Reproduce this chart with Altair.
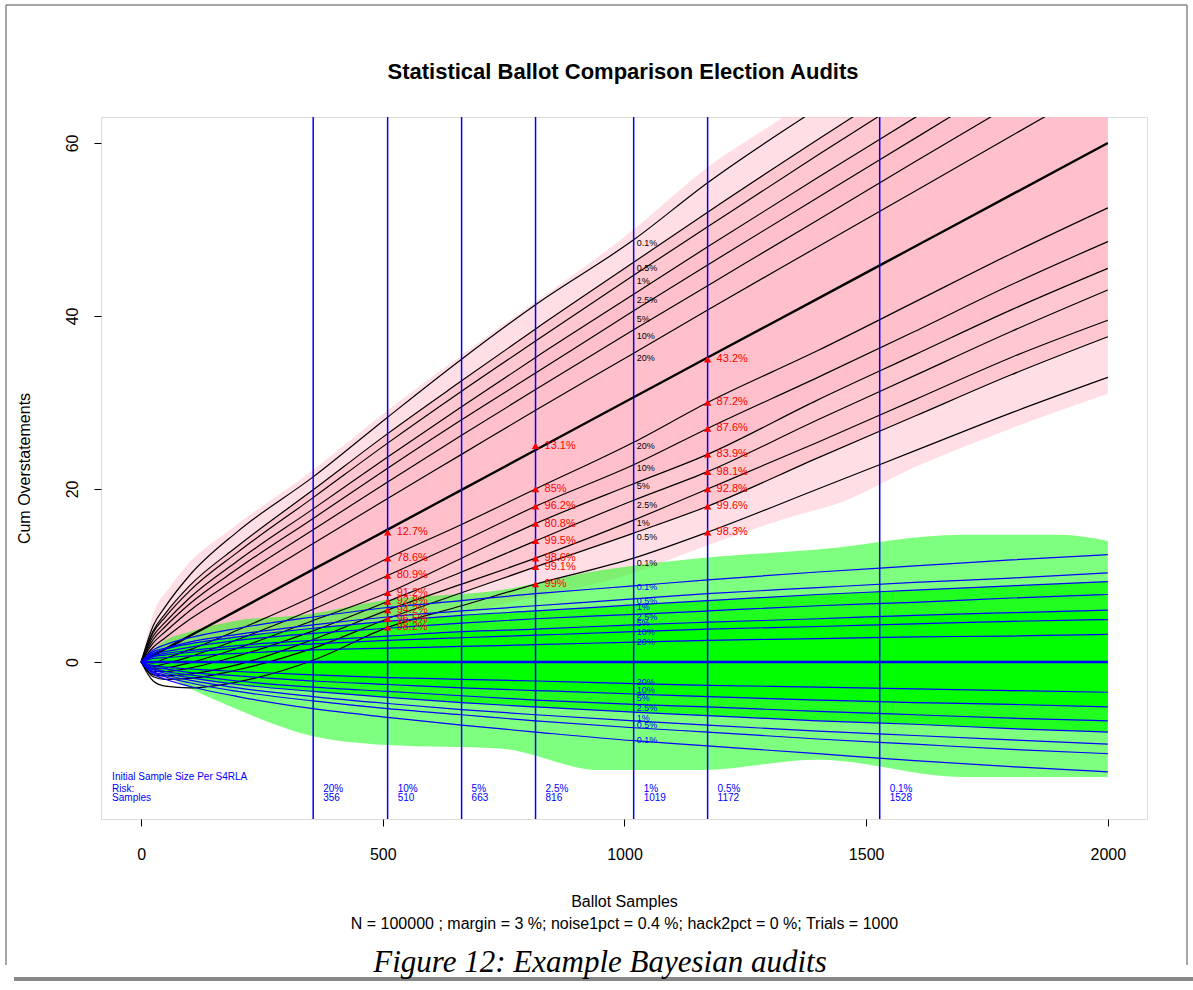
import altair as alt
import pandas as pd

# ---------------- data ----------------
N = [0, 25, 50, 100, 200, 356, 510, 663, 816, 1019, 1172, 1400, 1600, 1800, 2000]

# quantile curves of the "pink" trials (black lines)
P_U01 = [0, 4.2, 6.4, 10.0, 15.1, 21.4, 28.3, 35.0, 41.3, 48.8, 55.4, 64.0, 71.0, 78.0, 85.0]
P_U05 = [0, 3.6, 5.6, 8.8, 13.4, 19.9, 26.4, 32.5, 38.5, 46.2, 52.0, 60.4, 67.6, 74.8, 82.0]
P_U1 = [0, 3.4, 5.2, 8.2, 12.7, 19.0, 25.3, 31.3, 37.1, 44.7, 50.3, 58.6, 65.7, 72.8, 79.8]
P_U25 = [0, 3.0, 4.6, 7.4, 11.7, 17.7, 23.7, 29.5, 35.2, 42.5, 48.0, 56.0, 62.9, 69.8, 76.7]
P_U5 = [0, 2.6, 4.1, 6.7, 10.8, 16.6, 22.4, 28.0, 33.4, 40.6, 45.9, 53.7, 60.5, 67.3, 74.0]
P_U10 = [0, 2.2, 3.5, 5.9, 9.7, 15.3, 20.8, 26.2, 31.5, 38.4, 43.5, 51.1, 57.8, 64.4, 70.9]
P_U20 = [0, 1.7, 2.8, 4.9, 8.4, 13.7, 18.9, 24.0, 29.1, 35.7, 40.7, 48.0, 54.4, 60.8, 67.2]
P_MED = [0, 0.75, 1.5, 3.0, 6.0, 10.7, 15.3, 19.9, 24.5, 30.6, 35.2, 42.0, 48.0, 54.0, 60.0]
P_L20 = [0, -0.1, 0.4, 1.4, 3.7, 7.6, 12.0, 15.9, 20.0, 25.4, 30.0, 36.0, 41.6, 47.2, 52.5]
P_L10 = [0, -0.5, -0.2, 0.6, 2.6, 6.1, 10.0, 13.9, 18.0, 22.8, 27.0, 32.9, 38.2, 43.6, 48.6]
P_L5 = [0, -0.8, -0.7, -0.1, 1.6, 4.8, 8.0, 12.0, 16.0, 20.6, 24.0, 30.3, 35.5, 40.7, 45.5]
P_L25 = [0, -1.1, -1.1, -0.7, 0.7, 3.6, 7.0, 10.4, 14.0, 18.7, 22.0, 28.0, 33.1, 38.2, 43.0]
P_L1 = [0, -1.5, -1.6, -1.4, -0.3, 2.6, 6.0, 9.0, 12.0, 16.4, 20.0, 25.4, 30.3, 35.2, 39.5]
P_L05 = [0, -1.7, -2.0, -1.9, -0.9, 1.6, 5.0, 8.0, 11.0, 14.9, 18.0, 23.6, 28.4, 33.2, 37.6]
P_L01 = [0, -2.2, -2.8, -3.0, -2.3, 0.2, 4.0, 6.5, 9.0, 12.0, 15.0, 20.0, 24.4, 28.8, 32.9]

# quantile curves of the "green" trials (blue lines)
G_U01 = [0, 1.4, 2.0, 2.8, 3.9, 5.2, 6.3, 7.1, 7.9, 8.8, 9.5, 10.4, 11.1, 11.8, 12.4]
G_U05 = [0, 1.2, 1.6, 2.3, 3.2, 4.3, 5.2, 5.9, 6.5, 7.3, 7.9, 8.6, 9.2, 9.7, 10.3]
G_U1 = [0, 1.0, 1.5, 2.1, 2.9, 3.9, 4.7, 5.4, 5.9, 6.6, 7.1, 7.8, 8.3, 8.8, 9.3]
G_U25 = [0, 0.9, 1.2, 1.7, 2.5, 3.3, 3.9, 4.5, 5.0, 5.5, 5.9, 6.5, 6.9, 7.4, 7.8]
G_U5 = [0, 0.7, 1.0, 1.3, 1.9, 2.5, 3.0, 3.5, 3.8, 4.3, 4.6, 5.0, 5.4, 5.7, 6.0]
G_U10 = [0, 0.6, 0.8, 1.1, 1.6, 2.1, 2.5, 2.8, 3.1, 3.5, 3.8, 4.1, 4.4, 4.7, 4.9]
G_U20 = [0, 0.4, 0.5, 0.7, 1.0, 1.4, 1.6, 1.8, 2.0, 2.3, 2.5, 2.7, 2.9, 3.0, 3.2]
G_MED = [0, 0, 0, 0, 0, 0, 0, 0, 0, 0, 0, 0, 0, 0, 0]
G_L20 = [0, -0.4, -0.6, -0.8, -1.1, -1.5, -1.8, -2.0, -2.2, -2.5, -2.7, -2.9, -3.1, -3.3, -3.5]
G_L10 = [0, -0.6, -0.8, -1.2, -1.6, -2.2, -2.6, -3.0, -3.3, -3.7, -4.0, -4.4, -4.7, -4.9, -5.2]
G_L5 = [0, -0.8, -1.1, -1.5, -2.2, -2.9, -3.4, -3.9, -4.4, -4.9, -5.2, -5.7, -6.1, -6.5, -6.8]
G_L25 = [0, -0.9, -1.3, -1.8, -2.6, -3.4, -4.1, -4.7, -5.2, -5.8, -6.2, -6.8, -7.2, -7.7, -8.1]
G_L1 = [0, -1.1, -1.5, -2.1, -3.0, -4.0, -4.8, -5.5, -6.1, -6.8, -7.3, -8.0, -8.5, -9.0, -9.5]
G_L05 = [0, -1.2, -1.7, -2.4, -3.4, -4.5, -5.4, -6.1, -6.8, -7.6, -8.1, -8.9, -9.5, -10.1, -10.6]
G_L01 = [0, -1.4, -2.0, -2.8, -4.0, -5.4, -6.4, -7.3, -8.1, -9.1, -9.7, -10.6, -11.4, -12.1, -12.7]

# envelopes of the individual trial traces
PINK_N = [0, 25, 60, 100, 184, 356, 510, 700, 1019, 1172, 1328, 1450, 1600, 1800, 2000]
PINK_HI = [0, 5.5, 8.7, 11.5, 15.3, 22.2, 29.1, 37.0, 50.0, 57.2, 63.0, 68.0, 72.0, 76.0, 80.0]
PINK_LO = [0, -1.2, -2.2, -2.8, -3.2, -1.0, 2.8, 6.0, 10.3, 13.5, 16.5, 18.5, 22.5, 27.0, 31.0]

GREEN_N = [0, 50, 100, 200, 329, 510, 742, 950, 1156, 1400, 1700, 1900, 2000]
GREEN_HI = [0, 2.5, 3.5, 4.8, 5.4, 7.2, 8.3, 10.6, 12.0, 13.0, 14.7, 14.7, 14.0]
GREEN_LO = [0, -1.5, -3.0, -5.5, -8.2, -9.6, -10.0, -12.5, -12.5, -11.3, -13.3, -13.3, -13.3]

QUANT_UP = ["0.1%", "0.5%", "1%", "2.5%", "5%", "10%", "20%"]
QUANT_LO = ["20%", "10%", "5%", "2.5%", "1%", "0.5%", "0.1%"]
LABEL_N = 1019
P_LABEL_UP_Y = [48.4, 45.5, 44.0, 41.8, 39.7, 37.7, 35.1]
P_LABEL_LO_Y = [25.0, 22.4, 20.3, 18.2, 16.1, 14.5, 11.5]
G_LABEL_UP_Y = [8.7, 7.0, 6.4, 5.2, 4.5, 3.5, 2.35]
G_LABEL_LO_Y = [-2.3, -3.2, -4.2, -5.35, -6.5, -7.3, -9.0]

RISK_N = [356, 510, 663, 816, 1019, 1172, 1528]
RISK_LBL = ["20%", "10%", "5%", "2.5%", "1%", "0.5%", "0.1%"]

TRI_N = [510] * 8 + [816] * 8 + [1172] * 8
TRI_V = [15, 12, 10, 8, 7, 6, 5, 4,
         25, 20, 18, 16, 14, 12, 11, 9,
         35, 30, 27, 24, 22, 20, 18, 15]
TRI_LBL = ["12.7%", "78.6%", "80.9%", "91.2%", "92.8%", "94.2%", "96.5%", "98.2%",
           "13.1%", "85%", "96.2%", "80.8%", "99.5%", "98.6%", "99.1%", "99%",
           "43.2%", "87.2%", "87.6%", "83.9%", "98.1%", "92.8%", "99.6%", "98.3%"]

LEFT_TXT = ["Initial Sample Size Per S4RLA", "Risk:", "Samples"]
LEFT_TXT_Y = [-13.26, -14.72, -15.76]
RISK_ROW_Y = -14.72
SAMPLE_ROW_Y = -15.76

TITLE = "Statistical Ballot Comparison Election Audits"
XTITLE = ["Ballot Samples",
          "N = 100000 ; margin = 3 %; noise1pct = 0.4 %; hack2pct = 0 %; Trials = 1000"]
YTITLE = "Cum Overstatements"
CAPTION = "Figure 12: Example Bayesian audits"

# ---------------- tables ----------------
P_CURVES = [P_U01, P_U05, P_U1, P_U25, P_U5, P_U10, P_U20,
            P_L20, P_L10, P_L5, P_L25, P_L1, P_L05, P_L01]
G_CURVES = [G_U01, G_U05, G_U1, G_U25, G_U5, G_U10, G_U20,
            G_L20, G_L10, G_L5, G_L25, G_L1, G_L05, G_L01]


def long_table(curves, prefix):
    rows = []
    for i, vals in enumerate(curves):
        for n, v in zip(N, vals):
            rows.append({"n": n, "v": v, "curve": f"{prefix}{i}"})
    return pd.DataFrame(rows)


black_df = long_table(P_CURVES, "p")
blue_df = long_table(G_CURVES, "g")
pmed_df = pd.DataFrame({"n": N, "v": P_MED})
gmed_df = pd.DataFrame({"n": N, "v": G_MED})

pink_env = pd.DataFrame({"n": PINK_N, "lo": PINK_LO, "hi": PINK_HI})
pink_mid = pd.DataFrame({"n": N, "lo": P_L05, "hi": P_U05})
pink_core = pd.DataFrame({"n": N, "lo": P_L5, "hi": P_U25})
green_env = pd.DataFrame({"n": GREEN_N, "lo": GREEN_LO, "hi": GREEN_HI})
green_mid = pd.DataFrame({"n": N, "lo": G_L25, "hi": G_U1})
green_core = pd.DataFrame({"n": N, "lo": G_L10, "hi": G_U5})

plab = pd.DataFrame({"n": [LABEL_N] * 14, "v": P_LABEL_UP_Y + P_LABEL_LO_Y,
                     "t": QUANT_UP + QUANT_LO})
glab = pd.DataFrame({"n": [LABEL_N] * 14, "v": G_LABEL_UP_Y + G_LABEL_LO_Y,
                     "t": QUANT_UP + QUANT_LO})
risk_df = pd.DataFrame({"n": RISK_N, "lbl": RISK_LBL, "s": [str(r) for r in RISK_N],
                        "y1": [RISK_ROW_Y] * len(RISK_N), "y2": [SAMPLE_ROW_Y] * len(RISK_N)})
tri_df = pd.DataFrame({"n": TRI_N, "v": TRI_V, "t": TRI_LBL})
left_df = pd.DataFrame({"n": [-60] * 3, "v": LEFT_TXT_Y, "t": LEFT_TXT})

# ---------------- scales / axes ----------------
FONT = "Liberation Sans"
xs = alt.Scale(domain=[-83, 2081], nice=False, zero=False)
ys = alt.Scale(domain=[-18.15, 63.0], nice=False, zero=False)
x_axis = alt.Axis(values=[0, 500, 1000, 1500, 2000], format="d", title=XTITLE,
                  grid=False, domain=False, tickSize=7, tickColor="black",
                  labelFontSize=16, labelPadding=20, labelColor="black", labelFont=FONT,
                  titleFontSize=16, titleFontWeight="normal", titleFont=FONT,
                  titleColor="black", titlePadding=31, titleLineHeight=22)
y_axis = alt.Axis(values=[0, 20, 40, 60], format="d", title=YTITLE,
                  grid=False, domain=False, tickSize=7, tickColor="black",
                  labelAngle=270, labelAlign="center", labelBaseline="bottom",
                  labelPadding=14, labelFontSize=16, labelColor="black", labelFont=FONT,
                  titleFontSize=16, titleFontWeight="normal", titleFont=FONT,
                  titleColor="black", titlePadding=32)


def X(f):
    return alt.X(f, type="quantitative", scale=xs, axis=x_axis)


def Y(f):
    return alt.Y(f, type="quantitative", scale=ys, axis=y_axis)


PINK = "#FFC0CB"
GREEN = "#00FF00"
BLUE = "#0000FF"
RED = "#FF0000"
GRAY = "#888888"


def band(df, color, opacity):
    return alt.Chart(df).mark_area(color=color, opacity=opacity, clip=True,
                                   interpolate="monotone").encode(
        x=X("n"), y=Y("lo"), y2="hi")


one = pd.DataFrame({"a": [0]})

layers = [
    # document frame (page decoration, pixel positions relative to the plot origin)
    alt.Chart(one).mark_rule(color=GRAY, strokeWidth=1.5).encode(
        x=alt.value(-95), x2=alt.value(1086), y=alt.value(-112)),
    alt.Chart(one).mark_rule(color=GRAY, strokeWidth=1.5).encode(
        x=alt.value(-95), y=alt.value(-112), y2=alt.value(848)),
    alt.Chart(one).mark_rule(color=GRAY, strokeWidth=1.5).encode(
        x=alt.value(1086), y=alt.value(-112), y2=alt.value(848)),
    alt.Chart(one).mark_rule(color=GRAY, strokeWidth=4).encode(
        x=alt.value(-87), x2=alt.value(1092), y=alt.value(862)),
    # trial envelopes
    band(pink_env, PINK, 0.5),
    band(pink_mid, PINK, 0.8),
    band(pink_core, PINK, 1.0),
    band(green_env, GREEN, 0.5),
    band(green_mid, GREEN, 0.75),
    band(green_core, GREEN, 1.0),
    # quantile curves
    alt.Chart(black_df).mark_line(color="black", strokeWidth=1.2, clip=True,
                                  interpolate="monotone").encode(
        x=X("n"), y=Y("v"), detail="curve:N"),
    alt.Chart(pmed_df).mark_line(color="black", strokeWidth=2.4, clip=True,
                                 interpolate="monotone").encode(x=X("n"), y=Y("v")),
    alt.Chart(blue_df).mark_line(color=BLUE, strokeWidth=1.2, clip=True,
                                 interpolate="monotone").encode(
        x=X("n"), y=Y("v"), detail="curve:N"),
    alt.Chart(gmed_df).mark_line(color=BLUE, strokeWidth=2.4, clip=True).encode(
        x=X("n"), y=Y("v")),
    alt.Chart(risk_df).mark_rule(color=BLUE, strokeWidth=1.5).encode(x=X("n")),
    alt.Chart(plab).mark_text(align="left", baseline="middle", dx=3, fontSize=9,
                              font=FONT, color="black").encode(x=X("n"), y=Y("v"), text="t"),
    alt.Chart(glab).mark_text(align="left", baseline="middle", dx=3, fontSize=9,
                              font=FONT, color=BLUE).encode(x=X("n"), y=Y("v"), text="t"),
    alt.Chart(tri_df).mark_point(shape="triangle-up", filled=True, size=55, color=RED,
                                 opacity=1).encode(x=X("n"), y=Y("v")),
    alt.Chart(tri_df).mark_text(align="left", baseline="middle", dx=9, fontSize=11,
                                font=FONT, color=RED).encode(x=X("n"), y=Y("v"), text="t"),
    alt.Chart(risk_df).mark_text(align="left", baseline="middle", dx=10, fontSize=10,
                                 font=FONT, color=BLUE).encode(x=X("n"), y=Y("y1"), text="lbl"),
    alt.Chart(risk_df).mark_text(align="left", baseline="middle", dx=10, fontSize=10,
                                 font=FONT, color=BLUE).encode(x=X("n"), y=Y("y2"), text="s"),
    alt.Chart(left_df).mark_text(align="left", baseline="middle", fontSize=10,
                                 font=FONT, color=BLUE).encode(x=X("n"), y=Y("v"), text="t"),
]

# title and caption placed as page text
title_df = pd.DataFrame({"t": [TITLE]})
layers.append(alt.Chart(title_df).mark_text(font=FONT, fontWeight="bold", fontSize=22,
                                            color="black", align="center",
                                            baseline="middle").encode(
    x=alt.value(522), y=alt.value(-45), text="t"))
cap_df = pd.DataFrame({"t": [CAPTION]})
layers.append(alt.Chart(cap_df).mark_text(font="Liberation Serif", fontStyle="italic",
                                          fontSize=31, color="black", align="center",
                                          baseline="alphabetic").encode(
    x=alt.value(499), y=alt.value(855), text="t"))

chart = alt.layer(*layers).properties(
    width=1046, height=702,
    autosize=alt.AutoSizeParams(type="none"),
    padding={"left": 101, "top": 117, "right": 46, "bottom": 171},
).configure_view(stroke="black", strokeWidth=1).configure(background="white")

chart.save("out.html", embed_options={"renderer": "svg", "actions": False})
